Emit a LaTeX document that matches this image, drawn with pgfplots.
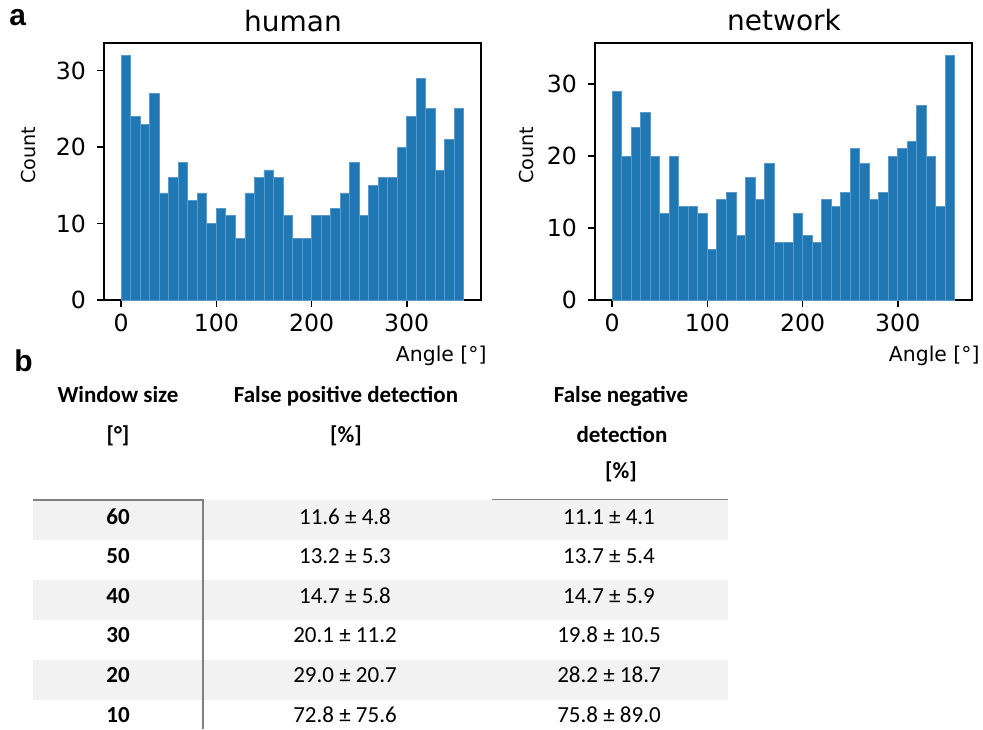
\documentclass[border=0pt]{standalone}
\usepackage{fontspec}
\setmainfont{DejaVu Sans}
\newfontfamily\calib{Carlito}
\newfontfamily\arialf{Liberation Sans}
\usepackage{pgfplots}
\pgfplotsset{compat=1.18}
\definecolor{mplblue}{HTML}{1F77B4}
\definecolor{edgeblue}{HTML}{5A9ACB}
\definecolor{rowgray}{HTML}{F2F2F2}
\definecolor{linegray}{HTML}{808080}
\pgfplotsset{histstyle/.style={
  scale only axis, width=188.5pt, height=128.5pt,
  xmin=-18, xmax=378, ymin=0,
  xtick={0,100,200,300}, ytick={0,10,20,30},
  tick align=outside, xtick pos=bottom, ytick pos=left,
  major tick length=3.5pt,
  every tick/.style={black, line width=0.8pt},
  axis line style={line width=0.8pt},
  tick label style={font=\fontsize{11.8}{14}\selectfont},
  /pgf/number format/assume math mode=true,
  yticklabel style={xshift=-2pt},
  anchor=south west,
}}
\begin{document}
\begin{tikzpicture}
\begin{axis}[histstyle, at={(52pt,-150pt)}, ymax=33.6]
\addplot[ybar interval, fill=mplblue, draw=edgeblue, line width=0.4pt] coordinates {
(0,32) (10,24) (20,23) (30,27) (40,14) (50,16) (60,18) (70,13) (80,14) (90,10)
(100,12) (110,11) (120,8) (130,14) (140,16) (150,17) (160,16) (170,11) (180,8) (190,8)
(200,11) (210,11) (220,12) (230,14) (240,18) (250,11) (260,15) (270,16) (280,16) (290,20)
(300,24) (310,29) (320,25) (330,17) (340,21) (350,25) (360,25)};
\end{axis}
\begin{axis}[histstyle, at={(297.5pt,-150pt)}, ymax=35.7]
\addplot[ybar interval, fill=mplblue, draw=edgeblue, line width=0.4pt] coordinates {
(0,29) (10,20) (20,24) (30,26) (40,20) (50,12) (60,20) (70,13) (80,13) (90,12)
(100,7) (110,14) (120,15) (130,9) (140,17) (150,14) (160,19) (170,8) (180,8) (190,12)
(200,9) (210,8) (220,14) (230,13) (240,15) (250,21) (260,19) (270,14) (280,15) (290,20)
(300,21) (310,22) (320,27) (330,20) (340,13) (350,34) (360,34)};
\end{axis}
\begin{scope}[x=0.5pt,y=-0.5pt]
\path[use as bounding box] (0,0) rectangle (983,729);
% titles and labels
\node[font=\fontsize{14}{16}\selectfont, anchor=base, inner sep=0] at (293,31) {human};
\node[font=\fontsize{14}{16}\selectfont, anchor=base, inner sep=0] at (784,30) {network};
\node[font=\fontsize{9.6}{11}\selectfont, rotate=90, anchor=base, inner sep=0] at (35,155) {Count};
\node[font=\fontsize{9.6}{11}\selectfont, rotate=90, anchor=base, inner sep=0] at (533,155) {Count};
\node[font=\fontsize{10.2}{12}\selectfont, anchor=base east, inner sep=0] at (487,361) {Angle [°]};
\node[font=\fontsize{10.2}{12}\selectfont, anchor=base east, inner sep=0] at (980,361) {Angle [°]};
\node[font=\arialf\bfseries\fontsize{15}{17}\selectfont, anchor=base west, inner sep=0] at (9,25) {a};
\node[font=\arialf\bfseries\fontsize{15}{17}\selectfont, anchor=base west, inner sep=0] at (14,371) {b};
% table shading
\fill[rowgray] (33,500) rectangle (728,540);
\fill[rowgray] (33,580) rectangle (728,620);
\fill[rowgray] (33,660) rectangle (728,700);
\draw[linegray, line width=0.6pt] (33,500) -- (203,500);
\draw[linegray, line width=0.8pt] (492,499.5) -- (728,499.5);
\draw[linegray, line width=0.8pt] (203,499) -- (203,729);
% headers
\begin{scope}[every node/.style={font=\calib\bfseries\fontsize{11.5}{13}\selectfont, anchor=base, inner sep=0}]
\node at (118,402) {Window size};
\node at (118,442) {[°]};
\node at (346,402) {False positive detection};
\node at (346,442) {[\%]};
\node at (621,402) {False negative};
\node at (622,442) {detection};
\node at (621,478) {[\%]};
\node at (118,524) {60};
\node at (118,563.6) {50};
\node at (118,603.2) {40};
\node at (118,642.8) {30};
\node at (118,682.4) {20};
\node at (118,722) {10};
\end{scope}
\begin{scope}[every node/.style={font=\calib\fontsize{11.5}{13}\selectfont, anchor=base, inner sep=0}]
\node at (345,524) {11.6 ± 4.8};
\node at (345,563.6) {13.2 ± 5.3};
\node at (345,603.2) {14.7 ± 5.8};
\node at (345,642.8) {20.1 ± 11.2};
\node at (345,682.4) {29.0 ± 20.7};
\node at (345,722) {72.8 ± 75.6};
\node at (609,524) {11.1 ± 4.1};
\node at (609,563.6) {13.7 ± 5.4};
\node at (609,603.2) {14.7 ± 5.9};
\node at (609,642.8) {19.8 ± 10.5};
\node at (609,682.4) {28.2 ± 18.7};
\node at (609,722) {75.8 ± 89.0};
\end{scope}
\end{scope}
\end{tikzpicture}
\end{document}
